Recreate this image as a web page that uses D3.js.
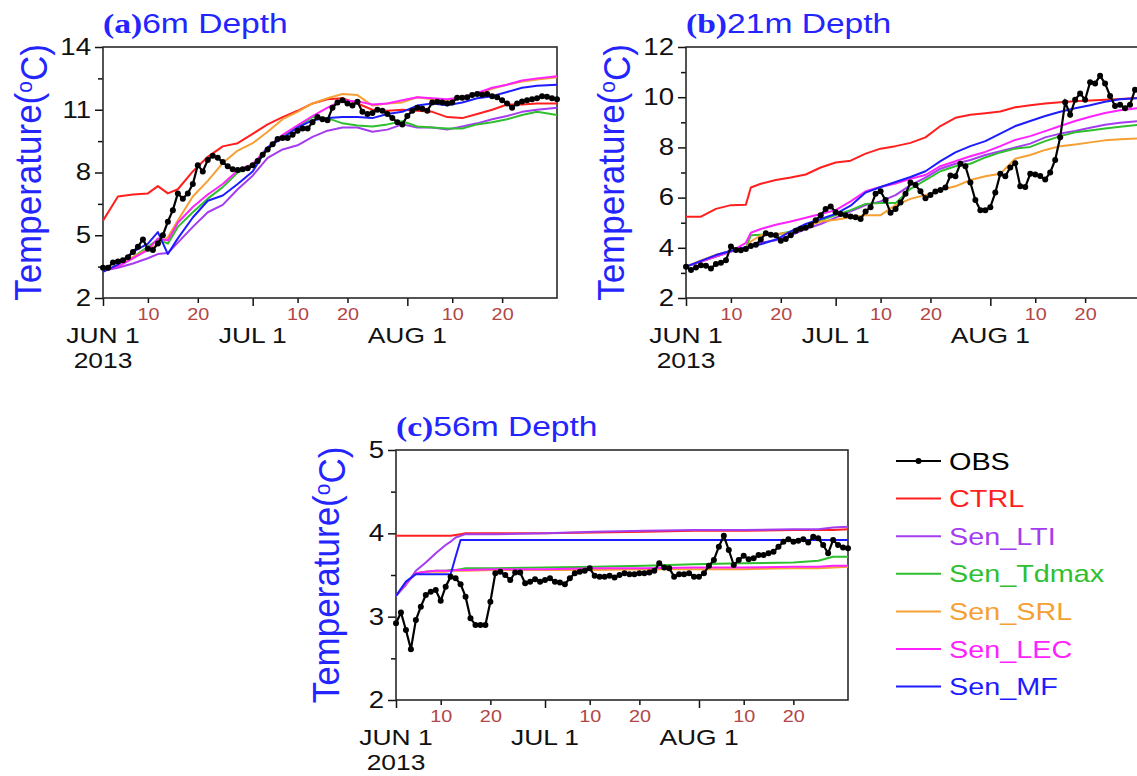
<!DOCTYPE html>
<html>
<head>
<meta charset="utf-8">
<script src="https://cdn.jsdelivr.net/npm/d3@7"></script>
<style>
  body { margin: 0; background: #fff; }
  svg { display: block; }
</style>
</head>
<body>
<div id="chart"></div>
<script>
// ---- data ----
const seriesNames = ["OBS", "CTRL", "Sen_LTI", "Sen_Tdmax", "Sen_SRL", "Sen_LEC", "Sen_MF"];

// (a) 6m depth, model values at these day offsets from JUN 1
const daysA = [0, 3, 6, 9, 11, 13, 15, 18, 21, 24, 27, 30, 33, 36, 39, 42, 45, 48, 51, 54, 57, 60, 63, 66, 69, 72, 75, 78, 81, 84, 87, 91];
const ctrlA = [5.7, 6.85, 6.95, 7.0, 7.35, 7.0, 7.2, 8.05, 8.75, 9.25, 9.4, 9.85, 10.3, 10.65, 10.95, 11.3, 11.5, 11.55, 11.3, 11.0, 10.95, 11.0, 10.95, 10.9, 10.65, 10.6, 10.8, 11.0, 11.25, 11.25, 11.3, 11.3];
const ltiA = [3.3, 3.45, 3.65, 3.9, 4.1, 4.15, 4.65, 5.4, 6.1, 6.45, 7.2, 7.85, 8.7, 9.1, 9.3, 9.7, 10.0, 10.15, 10.15, 9.95, 10.05, 10.3, 10.15, 10.15, 10.05, 10.2, 10.35, 10.55, 10.7, 10.9, 11.0, 11.1];
const tdmaxA = [3.3, 3.55, 3.95, 4.45, 4.8, 4.6, 5.4, 6.1, 6.75, 7.3, 8.0, 8.3, 9.1, 9.75, 10.2, 10.65, 10.6, 10.35, 10.25, 10.2, 10.3, 10.45, 10.2, 10.15, 10.1, 10.1, 10.3, 10.4, 10.55, 10.75, 10.9, 10.75];
const srlA = [3.3, 3.55, 3.95, 4.35, 4.55, 4.9, 5.7, 6.85, 7.6, 8.45, 9.05, 9.4, 9.95, 10.55, 10.9, 11.3, 11.55, 11.75, 11.7, 11.2, 11.3, 11.35, 11.6, 11.5, 11.45, 11.6, 11.75, 12.0, 12.2, 12.35, 12.45, 12.55];
const lecA = [3.3, 3.5, 3.9, 4.3, 4.85, 4.75, 5.6, 6.35, 6.95, 7.45, 8.1, 8.4, 9.2, 9.8, 10.25, 10.7, 11.1, 11.45, 11.4, 11.25, 11.3, 11.45, 11.6, 11.55, 11.5, 11.6, 11.8, 12.05, 12.2, 12.4, 12.5, 12.6];
const mfA = [3.25, 3.6, 4.2, 4.6, 5.15, 4.1, 4.85, 5.85, 6.65, 6.9, 7.45, 8.05, 9.2, 9.65, 10.15, 10.5, 10.6, 10.65, 10.65, 10.6, 10.8, 10.9, 11.2, 11.3, 11.22, 11.35, 11.55, 11.65, 11.85, 12.05, 12.15, 12.2];
// daily observations, JUN 1 .. AUG 31
const obsA = [3.45, 3.45, 3.7, 3.75, 3.8, 3.95, 4.2, 4.45, 4.8, 4.35,
  4.3, 4.6, 5.0, 5.65, 6.2, 7.0, 6.75, 7.0, 7.45, 8.35,
  8.05, 8.6, 8.8, 8.7, 8.5, 8.3, 8.15, 8.12, 8.15, 8.2,
  8.35, 8.55, 8.85, 9.1, 9.35, 9.6, 9.65, 9.65, 9.8, 10.0,
  10.1, 10.1, 10.4, 10.65, 10.55, 10.5, 11.1, 11.35, 11.45, 11.3,
  11.2, 11.38, 10.9, 10.8, 10.85, 11.0, 10.95, 10.8, 10.6, 10.4,
  10.3, 10.7, 10.95, 11.1, 11.05, 10.95, 11.35, 11.38, 11.35, 11.3,
  11.35, 11.57, 11.57, 11.6, 11.7, 11.75, 11.72, 11.75, 11.65, 11.6,
  11.45, 11.3, 11.1, 11.3, 11.4, 11.45, 11.5, 11.55, 11.65, 11.62,
  11.55, 11.5];

// (b) 21m depth
const daysB = [0, 3, 6, 9, 12, 13, 15, 18, 21, 24, 27, 30, 33, 36, 39, 42, 45, 48, 51, 54, 57, 60, 63, 66, 69, 72, 75, 78, 81, 84, 87, 91];
const ctrlB = [5.24, 5.24, 5.55, 5.7, 5.72, 6.4, 6.55, 6.7, 6.8, 6.92, 7.2, 7.4, 7.47, 7.75, 7.95, 8.05, 8.18, 8.4, 8.85, 9.18, 9.3, 9.36, 9.43, 9.6, 9.68, 9.75, 9.8, 9.84, 9.87, 9.9, 9.93, 9.97];
const ltiB = [3.25, 3.45, 3.65, 3.85, 4.0, 4.1, 4.2, 4.3, 4.5, 4.75, 4.95, 5.2, 5.45, 5.7, 5.85, 6.1, 6.5, 6.8, 7.15, 7.35, 7.5, 7.7, 7.85, 8.0, 8.15, 8.4, 8.55, 8.65, 8.78, 8.9, 8.98, 9.05];
const tdmaxB = [3.25, 3.45, 3.65, 3.85, 4.0, 4.5, 4.52, 4.52, 4.65, 4.85, 5.1, 5.3, 5.5, 5.75, 5.78, 5.78, 6.35, 6.7, 7.05, 7.25, 7.35, 7.6, 7.8, 7.95, 8.02, 8.25, 8.45, 8.6, 8.67, 8.75, 8.82, 8.9];
const srlB = [3.25, 3.5, 3.72, 3.87, 4.0, 4.25, 4.5, 4.55, 4.6, 4.85, 5.05, 5.12, 5.22, 5.3, 5.3, 5.7, 5.95, 6.1, 6.3, 6.45, 6.7, 6.85, 6.95, 7.55, 7.7, 7.9, 8.05, 8.12, 8.2, 8.28, 8.32, 8.36];
const lecB = [3.25, 3.45, 3.65, 3.85, 4.2, 4.6, 4.75, 4.92, 5.05, 5.2, 5.35, 5.5, 5.85, 6.25, 6.42, 6.56, 6.75, 6.9, 7.25, 7.45, 7.65, 7.82, 8.05, 8.3, 8.45, 8.65, 8.85, 9.05, 9.22, 9.37, 9.48, 9.57];
const mfB = [3.25, 3.48, 3.71, 3.88, 4.02, 4.06, 4.14, 4.33, 4.65, 4.95, 5.15, 5.35, 5.68, 6.2, 6.42, 6.62, 6.82, 7.05, 7.45, 7.8, 8.05, 8.25, 8.55, 8.85, 9.05, 9.25, 9.42, 9.56, 9.68, 9.82, 9.92, 9.97];
const obsB = [3.25, 3.12, 3.22, 3.3, 3.28, 3.18, 3.35, 3.4, 3.5, 4.05,
  3.91, 3.9, 3.95, 4.07, 4.12, 4.33, 4.58, 4.52, 4.5, 4.28,
  4.35, 4.5, 4.68, 4.76, 4.8, 4.9, 5.1, 5.3, 5.55, 5.65,
  5.42, 5.35, 5.3, 5.25, 5.22, 5.15, 5.45, 5.62, 6.15, 6.25,
  5.9, 5.4, 5.55, 5.8, 6.15, 6.6, 6.5, 6.25, 5.97, 6.1,
  6.24, 6.3, 6.4, 6.88, 6.85, 7.35, 7.25, 6.6, 5.9, 5.5,
  5.5, 5.62, 6.2, 6.95, 6.85, 7.2, 7.37, 6.45, 6.42, 6.95,
  6.92, 6.86, 6.72, 7.0, 7.5, 8.4, 9.8, 9.3, 9.9, 10.15,
  9.9, 10.6, 10.55, 10.85, 10.55, 10.05, 9.65, 9.7, 9.56, 9.7,
  10.3, 10.3];

// (c) 56m depth
const daysC = [0, 2, 4, 6, 8, 10, 11, 12, 13, 14, 20, 30, 40, 50, 60, 70, 80, 85, 88, 91];
const ctrlC = [3.97, 3.97, 3.97, 3.97, 3.97, 3.97, 3.97, 3.98, 3.99, 4.0, 4.0, 4.0, 4.01, 4.02, 4.03, 4.03, 4.04, 4.04, 4.04, 4.05];
const ltiC = [3.25, 3.38, 3.55, 3.65, 3.76, 3.86, 3.9, 3.95, 3.97, 3.99, 3.99, 4.0, 4.02, 4.03, 4.04, 4.04, 4.05, 4.05, 4.07, 4.08];
const tdmaxC = [3.25, 3.4, 3.52, 3.54, 3.55, 3.55, 3.56, 3.56, 3.57, 3.58, 3.58, 3.59, 3.6, 3.61, 3.63, 3.64, 3.65, 3.67, 3.72, 3.72];
const srlC = [3.25, 3.4, 3.52, 3.54, 3.54, 3.54, 3.55, 3.55, 3.55, 3.55, 3.56, 3.56, 3.56, 3.57, 3.57, 3.57, 3.58, 3.58, 3.59, 3.6];
const lecC = [3.25, 3.4, 3.52, 3.54, 3.55, 3.55, 3.55, 3.56, 3.56, 3.56, 3.57, 3.57, 3.58, 3.58, 3.59, 3.59, 3.6, 3.6, 3.61, 3.61];
const mfC = [3.25, 3.42, 3.51, 3.51, 3.51, 3.51, 3.51, 3.72, 3.92, 3.92, 3.92, 3.92, 3.92, 3.92, 3.92, 3.92, 3.92, 3.92, 3.92, 3.92];
const obsC = [2.92, 3.05, 2.84, 2.61, 2.96, 3.12, 3.26, 3.3, 3.32, 3.19,
  3.36, 3.48, 3.46, 3.39, 3.24, 2.98, 2.9, 2.9, 2.9, 3.18,
  3.52, 3.54, 3.5, 3.44, 3.53, 3.53, 3.4, 3.42, 3.45, 3.42,
  3.44, 3.46, 3.42, 3.41, 3.39, 3.46, 3.52, 3.54, 3.55, 3.58,
  3.49, 3.48, 3.48, 3.49, 3.47, 3.5, 3.52, 3.51, 3.51, 3.52,
  3.52, 3.53, 3.55, 3.64, 3.59, 3.58, 3.48, 3.51, 3.51, 3.52,
  3.48, 3.48, 3.52, 3.61, 3.68, 3.84, 3.97, 3.8, 3.62, 3.68,
  3.73, 3.69, 3.7, 3.74, 3.74, 3.76, 3.78, 3.84, 3.9, 3.93,
  3.9, 3.91, 3.93, 3.89, 3.96, 3.94, 3.86, 3.76, 3.92, 3.86,
  3.83, 3.82];

// axis ticks
const yTicksA = [2, 5, 8, 11, 14], yMinorA = [3.5, 6.5, 9.5, 12.5];
const yTicksB = [2, 4, 6, 8, 10, 12], yMinorB = [3, 5, 7, 9, 11];
const yTicksC = [2, 3, 4, 5], yMinorC = [2.5, 3.5, 4.5];
const monthLabels = ["JUN 1", "JUL 1", "AUG 1"];

const colors = {
  OBS: "#000000",
  CTRL: "#ff1f1f",
  Sen_LTI: "#a43cf0",
  Sen_Tdmax: "#2fbf2f",
  Sen_SRL: "#f5a033",
  Sen_LEC: "#ff22ff",
  Sen_MF: "#1c1cff"
};

const stretch = 1.2;
const sans = "'Liberation Sans', Arial, Helvetica, sans-serif";

const startDate = new Date(Date.UTC(2013, 5, 1));
const day = (d) => d3.utcDay.offset(startDate, d);
const majorDates = [day(0), day(30), day(61)];
const minorDates = [9, 19, 39, 49, 70, 80].map(day);

const svg = d3.select("#chart")
  .append("svg")
  .attr("width", 1137)
  .attr("height", 776)
  .style("font-family", sans);

function drawPanel(p) {
  const g = svg.append("g")
    .attr("transform", "translate(" + p.left + "," + p.top + ")");

  const x = d3.scaleUtc()
    .domain([day(0), day(91)])
    .range([0, p.width]);

  const y = d3.scaleLinear()
    .domain([p.yTicks[0], p.yTicks[p.yTicks.length - 1]])
    .range([p.height, 0]);

  // minor x ticks with small brown labels
  const xMinor = g.append("g")
    .attr("transform", "translate(0," + p.height + ")")
    .call(d3.axisBottom(x).tickValues(minorDates).tickSize(5).tickSizeOuter(0)
      .tickPadding(5).tickFormat(d3.utcFormat("%-d")));
  xMinor.select(".domain").remove();
  xMinor.selectAll("line").attr("stroke", "#111").attr("stroke-width", 1.5);
  xMinor.selectAll("text")
    .attr("transform", "scale(" + stretch + ",1)")
    .attr("fill", "#b24646")
    .style("font-size", "16.5px")
    .style("font-family", sans);

  // major x ticks (month starts)
  const xMajor = g.append("g")
    .attr("transform", "translate(0," + p.height + ")")
    .call(d3.axisBottom(x).tickValues(majorDates).tickSize(8).tickSizeOuter(0).tickFormat(""));
  xMajor.select(".domain").remove();
  xMajor.selectAll("line").attr("stroke", "#111").attr("stroke-width", 1.5);

  majorDates.forEach((d, i) => {
    g.append("text")
      .attr("transform", "translate(" + x(d) + "," + (p.height + 45) + ") scale(" + stretch + ",1)")
      .attr("text-anchor", "middle")
      .style("font-size", "22px")
      .attr("fill", "#111")
      .text(monthLabels[i]);
    if (i === 0) {
      g.append("text")
        .attr("transform", "translate(" + x(d) + "," + (p.height + 70) + ") scale(" + stretch + ",1)")
        .attr("text-anchor", "middle")
        .style("font-size", "22px")
        .attr("fill", "#111")
        .text("2013");
    }
  });

  // y axis
  const yMinor = g.append("g")
    .call(d3.axisLeft(y).tickValues(p.yMinor).tickSize(5).tickSizeOuter(0).tickFormat(""));
  yMinor.select(".domain").remove();
  yMinor.selectAll("line").attr("stroke", "#111").attr("stroke-width", 1.5);

  const yMajor = g.append("g")
    .call(d3.axisLeft(y).tickValues(p.yTicks).tickSize(8).tickSizeOuter(0).tickPadding(2)
      .tickFormat(d3.format("~g")));
  yMajor.select(".domain").remove();
  yMajor.selectAll("line").attr("stroke", "#111").attr("stroke-width", 1.5);
  yMajor.selectAll("text")
    .attr("transform", "scale(" + stretch + ",1)")
    .attr("fill", "#111")
    .style("font-size", "23px")
    .style("font-family", sans);

  // frame
  g.append("rect")
    .attr("width", p.width)
    .attr("height", p.height)
    .attr("fill", "none")
    .attr("stroke", "#2a2a2a")
    .attr("stroke-width", 1.6);

  // model lines
  const line = d3.line()
    .x((d) => x(day(d[0])))
    .y((d) => y(d[1]));

  p.models.forEach((m) => {
    g.append("path")
      .datum(p.days.map((d, i) => [d, m.values[i]]))
      .attr("fill", "none")
      .attr("stroke", colors[m.name])
      .attr("stroke-width", 2)
      .attr("stroke-linejoin", "round")
      .attr("d", line);
  });

  // observations
  const obs = p.obs.map((v, i) => [i, v]);
  g.append("path")
    .datum(obs)
    .attr("fill", "none")
    .attr("stroke", colors.OBS)
    .attr("stroke-width", 2.2)
    .attr("d", line);

  g.selectAll(".dot")
    .data(obs)
    .enter()
    .append("circle")
    .attr("cx", (d) => x(day(d[0])))
    .attr("cy", (d) => y(d[1]))
    .attr("r", 3)
    .attr("fill", colors.OBS);

  // title
  const title = svg.append("text")
    .attr("transform", "translate(" + p.left + "," + (p.top - 14) + ") scale(" + stretch + ",1)")
    .attr("fill", "#2424ff")
    .style("font-size", "28px");
  title.append("tspan")
    .style("font-family", "'Liberation Serif', 'Times New Roman', serif")
    .style("font-weight", "bold")
    .text("(" + p.letter + ")");
  title.append("tspan").text(p.title);

  // y label
  const yl = svg.append("text")
    .attr("transform", "translate(" + (p.left - p.labelOffset) + "," + (p.top + p.height / 2) + ") scale(1.05,1) rotate(-90)")
    .attr("text-anchor", "middle")
    .attr("fill", "#2424ff")
    .style("font-size", "35px");
  yl.append("tspan").text("Temperature(");
  yl.append("tspan").attr("dy", "-0.42em").style("font-size", "21px").text("o");
  yl.append("tspan").attr("dy", "0.42em").text("C)");
}

function models(ctrl, lti, tdmax, srl, lec, mf) {
  return [
    { name: "CTRL", values: ctrl },
    { name: "Sen_LTI", values: lti },
    { name: "Sen_Tdmax", values: tdmax },
    { name: "Sen_SRL", values: srl },
    { name: "Sen_LEC", values: lec },
    { name: "Sen_MF", values: mf }
  ];
}

drawPanel({
  letter: "a", title: "6m Depth", left: 103, top: 47, width: 454, height: 251, labelOffset: 62,
  yTicks: yTicksA, yMinor: yMinorA, days: daysA, obs: obsA,
  models: models(ctrlA, ltiA, tdmaxA, srlA, lecA, mfA)
});

drawPanel({
  letter: "b", title: "21m Depth", left: 686, top: 47, width: 454, height: 251, labelOffset: 62,
  yTicks: yTicksB, yMinor: yMinorB, days: daysB, obs: obsB,
  models: models(ctrlB, ltiB, tdmaxB, srlB, lecB, mfB)
});

drawPanel({
  letter: "c", title: "56m Depth", left: 396, top: 450, width: 452, height: 250, labelOffset: 57,
  yTicks: yTicksC, yMinor: yMinorC, days: daysC, obs: obsC,
  models: models(ctrlC, ltiC, tdmaxC, srlC, lecC, mfC)
});

// legend
const legend = svg.append("g").attr("transform", "translate(896,461)");
seriesNames.forEach((name, i) => {
  const row = legend.append("g").attr("transform", "translate(0," + i * 37.6 + ")");
  row.append("line")
    .attr("x1", 0).attr("x2", 45)
    .attr("stroke", colors[name])
    .attr("stroke-width", 2);
  if (name === "OBS") {
    row.append("circle").attr("cx", 22.5).attr("r", 3).attr("fill", colors.OBS);
  }
  row.append("text")
    .attr("transform", "translate(53,8.5) scale(" + stretch + ",1)")
    .attr("fill", colors[name])
    .style("font-size", "24px")
    .text(name);
});
</script>
</body>
</html>
